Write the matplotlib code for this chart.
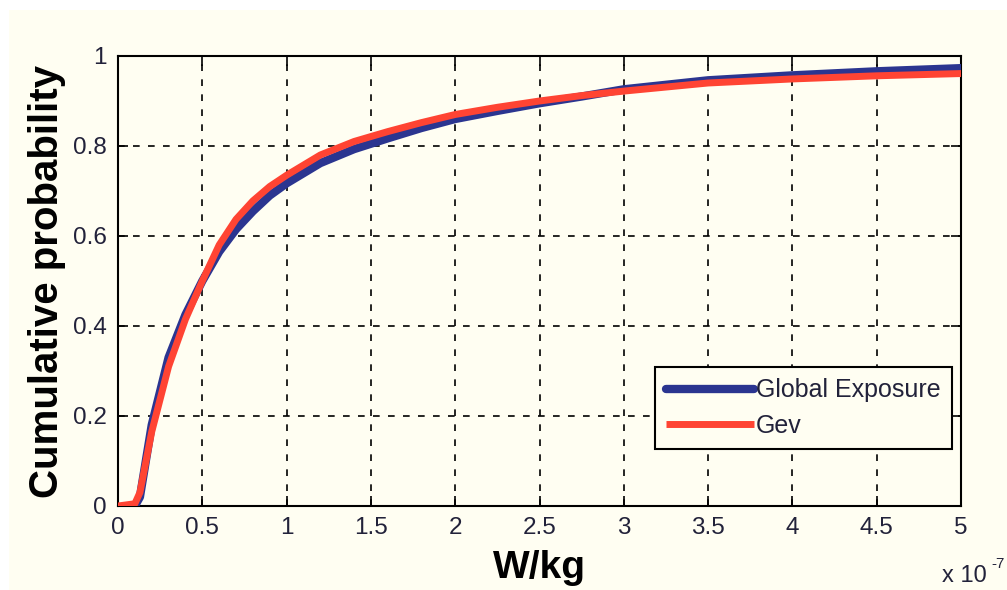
import matplotlib
matplotlib.use("Agg")
import matplotlib.pyplot as plt
from matplotlib.patches import Rectangle

# Data (x in units of 1e-7 W/kg)
x_global = [0.10, 0.13, 0.20, 0.30, 0.40, 0.50, 0.60, 0.70, 0.80, 0.90, 1.00,
            1.20, 1.40, 1.60, 1.80, 2.00, 2.25, 2.50, 2.75, 3.00, 3.50, 4.00, 4.50, 5.00]
y_global = [0.000, 0.020, 0.180, 0.330, 0.425, 0.500, 0.565, 0.615, 0.655, 0.690, 0.717,
            0.762, 0.793, 0.817, 0.840, 0.860, 0.878, 0.895, 0.910, 0.926, 0.946, 0.957, 0.966, 0.973]
x_gev = [0.00, 0.10, 0.13, 0.20, 0.30, 0.40, 0.50, 0.60, 0.70, 0.80, 0.90, 1.00,
         1.20, 1.40, 1.60, 1.80, 2.00, 2.25, 2.50, 2.75, 3.00, 3.50, 4.00, 4.50, 5.00]
y_gev = [0.000, 0.005, 0.030, 0.165, 0.310, 0.415, 0.500, 0.580, 0.637, 0.678, 0.710, 0.735,
         0.780, 0.810, 0.832, 0.852, 0.870, 0.886, 0.900, 0.912, 0.922, 0.940, 0.949, 0.956, 0.961]
series_labels = ["Global Exposure", "Gev"]
xticks = [0, 0.5, 1, 1.5, 2, 2.5, 3, 3.5, 4, 4.5, 5]
xticklabels = ["0", "0.5", "1", "1.5", "2", "2.5", "3", "3.5", "4", "4.5", "5"]
yticks = [0, 0.2, 0.4, 0.6, 0.8, 1]
yticklabels = ["0", "0.2", "0.4", "0.6", "0.8", "1"]

bg = "#fffef2"
txt = "#22223a"
plt.rcParams["font.family"] = ["Liberation Sans", "DejaVu Sans"]

fig = plt.figure(figsize=(10.07, 5.90), dpi=100, facecolor=bg)
# white strips at top and left edge
fig.patches.append(Rectangle((0, 1 - 10 / 590), 1, 10 / 590, transform=fig.transFigure,
                             facecolor="white", edgecolor="none", zorder=-5))
fig.patches.append(Rectangle((0, 0), 9 / 1007, 1, transform=fig.transFigure,
                             facecolor="white", edgecolor="none", zorder=-5))

ax = fig.add_axes([118 / 1007, 1 - 506 / 590, (961 - 118) / 1007, (506 - 56) / 590])
ax.set_facecolor(bg)

ax.plot(x_global, y_global, color="#2b3590", lw=6.0, label=series_labels[0],
        solid_capstyle="round", zorder=3)
ax.plot(x_gev, y_gev, color="#ff4433", lw=5.0, label=series_labels[1],
        solid_capstyle="butt", zorder=4)

ax.set_xlim(0, 5)
ax.set_ylim(0, 1)
ax.set_xticks(xticks)
ax.set_xticklabels(xticklabels)
ax.set_yticks(yticks)
ax.set_yticklabels(yticklabels)
ax.tick_params(direction="in", length=7, width=1.2, top=True, right=True,
               labelsize=17.5, colors="black", labelcolor=txt, pad=8)
ax.grid(True, color="black", linestyle=(0, (4, 5)), linewidth=1.2)
for s in ax.spines.values():
    s.set_linewidth(1.5)
    s.set_color("black")

ax.set_xlabel("W/kg", fontsize=28, fontweight="bold", labelpad=8)
ax.set_ylabel("Cumulative probability", fontsize=29, fontweight="bold", labelpad=5)

fig.text(942 / 1007, 1 - 582 / 590, "x 10", fontsize=17, color=txt, ha="left", va="baseline")
fig.text(991 / 1007, 1 - 568 / 590, "-7", fontsize=11, color=txt, ha="left", va="baseline")

leg = ax.legend(loc="lower right", bbox_to_anchor=(952 / 1007, 1 - 449 / 590),
                bbox_transform=fig.transFigure, fontsize=18, frameon=True,
                fancybox=False, edgecolor="black", facecolor=bg, framealpha=1,
                handlelength=3.5, handletextpad=0.1, borderpad=0.45, labelspacing=0.45,
                borderaxespad=0)
leg.get_frame().set_linewidth(1.5)
for t in leg.get_texts():
    t.set_color(txt)

fig.savefig("out.png", dpi=100, facecolor=fig.get_facecolor())
